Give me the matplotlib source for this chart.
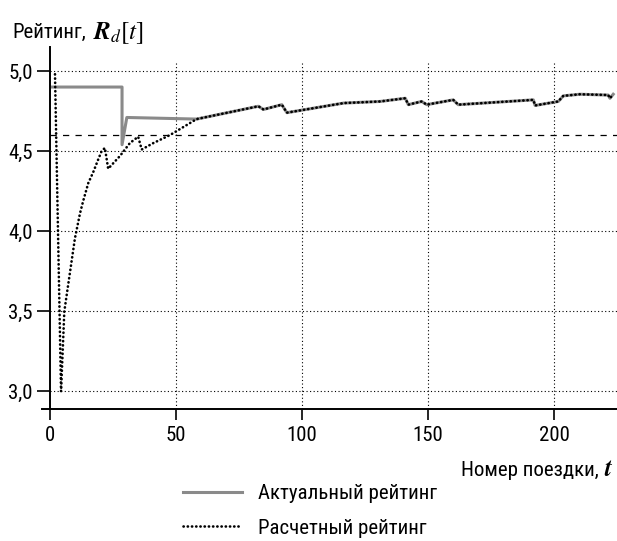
import matplotlib
matplotlib.use("Agg")
import matplotlib.pyplot as plt
from matplotlib.lines import Line2D

# --- data ---
actual_head_t = [1, 28.6, 28.6, 30.5]
actual_head_v = [4.90, 4.90, 4.54, 4.71]

calc_head_t = [2, 4.4, 5.7, 9.9, 11.9, 13.2, 15.2, 17.2, 19.2, 20.5, 21.8, 23.1,
               27.8, 31.7, 35, 36.4, 41, 47.6]
calc_head_v = [4.98, 3.0, 3.5, 3.955, 4.11, 4.19, 4.30, 4.37, 4.45, 4.50, 4.52, 4.39,
               4.47, 4.55, 4.59, 4.51, 4.55, 4.60]

# after ~58 trips both ratings coincide
common_t = [58.2, 82.7, 84.7, 92, 94, 116.6, 131, 141, 142.2, 147.5, 149.5, 160, 162,
            191.8, 192.5, 201.7, 203.7, 210.3, 221.5, 222.2, 223.5]
common_v = [4.70, 4.78, 4.76, 4.79, 4.74, 4.80, 4.81, 4.83, 4.79, 4.81, 4.79, 4.82, 4.79,
            4.82, 4.785, 4.81, 4.845, 4.855, 4.85, 4.83, 4.855]

threshold = 4.6
x_ticks = [0, 50, 100, 150, 200]
y_ticks = [3.0, 3.5, 4.0, 4.5, 5.0]
y_labels = ["3,0", "3,5", "4,0", "4,5", "5,0"]
labels = ["Актуальный рейтинг", "Расчетный рейтинг"]

plt.rcParams['font.family'] = ['Roboto Condensed', 'DejaVu Sans']
W, H = 617, 541
FS = 15

fig = plt.figure(figsize=(W / 100, H / 100), dpi=100)
ax = fig.add_axes([42.4 / W, 132 / H, 1 - 42.4 / W, 362 / H])
ax.set_xlim(-3, 225)
ax.set_ylim(2.89, 5.15)

# grid, drawn by hand so the vertical lines stop a bit above 5,0
grid_ls = (0, (1, 2.2))
for y in y_ticks:
    ax.plot([0, 225], [y, y], color='black', lw=0.8, ls=grid_ls, zorder=1)
ax.vlines(x_ticks[1:], 2.89, 5.06, color='black', lw=0.8, ls=grid_ls, zorder=1)
ax.axhline(threshold, xmin=3 / 228, color='black', lw=0.9, ls=(0, (5, 5)), zorder=1)

actual_t = actual_head_t + common_t
actual_v = actual_head_v + common_v
calc_t = calc_head_t + common_t
calc_v = calc_head_v + common_v

ax.plot(actual_t, actual_v, color='#8a8a8a', lw=2.2, zorder=2)
dot = (0, (0.1, 1.5))
ax.plot(calc_t, calc_v, color='black', lw=1.9, ls=dot, dash_capstyle='round', zorder=3)

for s in ['top', 'right']:
    ax.spines[s].set_visible(False)
ax.spines['left'].set_position(('data', 0))
ax.spines['left'].set_linewidth(1.4)
ax.spines['bottom'].set_linewidth(1.4)

ax.set_xticks(x_ticks)
ax.set_yticks(y_ticks)
ax.set_yticklabels(y_labels)
ax.tick_params(axis='both', direction='out', width=1.2, labelsize=FS)
ax.tick_params(axis='y', length=9.5, pad=3)
ax.tick_params(axis='x', length=8, pad=4)

# axis titles: plain text + serif math part
r = fig.canvas.get_renderer()
t1 = fig.text(12 / W, 1 - 38 / H, "Рейтинг,", fontsize=FS, va='baseline', ha='left')
x1 = t1.get_window_extent(r).x1
fig.text((x1 + 7) / W, 1 - 39 / H, r"$\mathbfit{R}_{\mathit{d}}[\mathit{t}]$", fontsize=18,
         va='baseline', ha='left', math_fontfamily='stix')

t2 = fig.text(613 / W, 1 - 476 / H, r"$\mathbfit{t}$", fontsize=18, va='baseline', ha='right',
              math_fontfamily='stix')
x0 = t2.get_window_extent(r).x0
fig.text((x0 - 5) / W, 1 - 476 / H, "Номер поездки,", fontsize=FS, va='baseline', ha='right')

handles = [Line2D([], [], color='#8a8a8a', lw=2.2),
           Line2D([], [], color='black', lw=1.9, ls=dot, dash_capstyle='round')]
fig.legend(handles, labels, loc='upper left', bbox_to_anchor=(183 / W, 1 - 484 / H),
           frameon=False, fontsize=FS, handlelength=2.85, handletextpad=0.75,
           labelspacing=0.75, borderpad=0, borderaxespad=0)

fig.savefig("out.png", dpi=100)
